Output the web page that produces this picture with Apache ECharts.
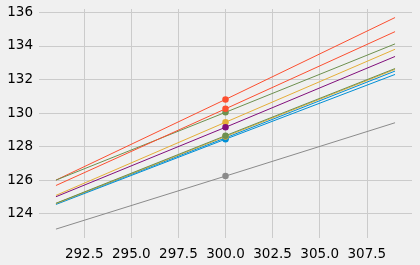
<!DOCTYPE html>
<html>
<head>
<meta charset="utf-8">
<script src="https://cdn.jsdelivr.net/npm/echarts@6/dist/echarts.min.js"></script>
<style>
html,body{margin:0;padding:0;background:#f0f0f0;}
#c{width:420px;height:265px;}
</style>
</head>
<body>
<div id="c"></div>
<script>
// x positions of each line's points
var xValues = [291, 300, 309];
// y values per series (start, marker at 300, end)
var blueA   = [124.55, 128.44, 132.30];
var redA    = [126.00, 130.81, 135.69];
var yellowA = [125.09, 129.45, 133.80];
var greenA  = [126.00, 130.04, 134.12];
var grayA   = [123.08, 126.24, 129.42];
var purpleA = [125.01, 129.15, 133.37];
var blueB   = [124.60, 128.52, 132.50];
var redB    = [125.68, 130.25, 134.85];
var yellowB = [124.60, 128.60, 132.60];
var greenB  = [124.62, 128.65, 132.65];
var markerX = 300;

var seriesList = [blueA, redA, yellowA, greenA, grayA, purpleA, blueB, redB, yellowB, greenB];
var colors = ['#008fd5', '#fc4f30', '#e5ae38', '#6d904f', '#8b8b8b', '#810f7c', '#008fd5', '#fc4f30', '#e5ae38', '#6d904f'];

var chart = echarts.init(document.getElementById('c'), null, {renderer: 'canvas'});
var series = seriesList.map(function (vals, i) {
  return {
    type: 'line',
    data: xValues.map(function (x, j) { return [x, vals[j]]; }),
    symbol: 'circle',
    symbolSize: function (v) { return v[0] === markerX ? 6.5 : 0; },
    showSymbol: true,
    lineStyle: {width: 1, color: colors[i]},
    itemStyle: {color: colors[i]},
    emphasis: {disabled: true},
    animation: false,
    z: 2 + i
  };
});

chart.setOption({
  backgroundColor: '#f0f0f0',
  animation: false,
  grid: {left: 39, right: 8, top: 9, bottom: 27, containLabel: false},
  xAxis: {
    type: 'value',
    min: 290.1, max: 309.9,
    minInterval: 2.5, maxInterval: 2.5,
    axisLine: {show: false}, axisTick: {show: false},
    splitLine: {show: true, showMinLine: false, showMaxLine: false, lineStyle: {color: '#cbcbcb', width: 1}},
    axisLabel: {
      showMinLabel: false, showMaxLabel: false,
      margin: 9, color: '#000', fontFamily: 'DejaVu Sans', fontSize: 13.5,
      formatter: function (v) { return v.toFixed(1); }
    }
  },
  yAxis: {
    type: 'value',
    min: 122.55, max: 136.2,
    minInterval: 2, maxInterval: 2,
    axisLine: {show: false}, axisTick: {show: false},
    splitLine: {show: true, showMinLine: false, showMaxLine: false, lineStyle: {color: '#cbcbcb', width: 1}},
    axisLabel: {
      showMinLabel: false, showMaxLabel: false,
      margin: 6, color: '#000', fontFamily: 'DejaVu Sans', fontSize: 13.5,
      formatter: function (v) { return String(v); }
    }
  },
  series: series
});
</script>
</body>
</html>
